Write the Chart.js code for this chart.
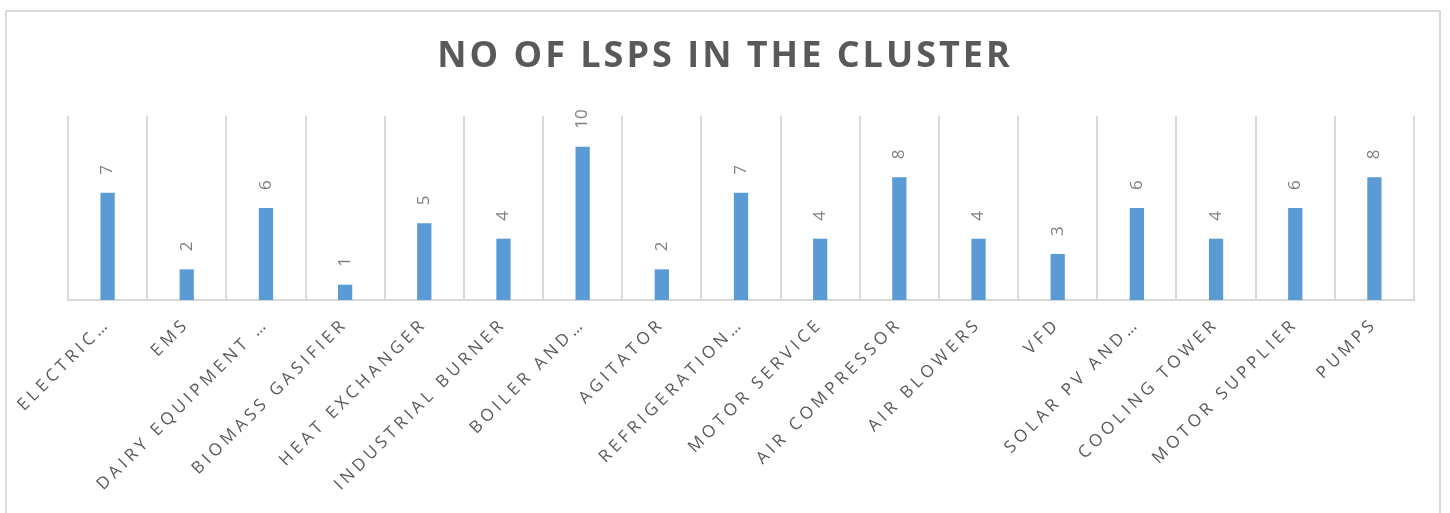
<!DOCTYPE html>
<html lang="en">
<head>
    <meta charset="UTF-8">
    <title>No of LSPs in the cluster</title>
    <script src="https://cdn.jsdelivr.net/npm/chart.js"></script>
    <style>
        html, body { margin: 0; padding: 0; background: #fff; }
        #frame {
            position: absolute;
            left: 5px; top: 10px;
            width: 1436px; height: 520px;
            border: 2px solid #d9d9d9;
            box-sizing: border-box;
        }
        #wrap { position: absolute; left: 0; top: 0; width: 1450px; height: 513px; }
    </style>
</head>
<body>
    <div id="frame"></div>
    <div id="wrap"><canvas id="lspChart"></canvas></div>

    <script>
        const chartTitle = 'NO OF LSPS IN THE CLUSTER';
        const categories = [
            'ELECTRIC…', 'EMS', 'DAIRY EQUIPMENT …', 'BIOMASS GASIFIER', 'HEAT EXCHANGER',
            'INDUSTRIAL BURNER', 'BOILER AND…', 'AGITATOR', 'REFRIGERATION…', 'MOTOR SERVICE',
            'AIR COMPRESSOR', 'AIR BLOWERS', 'VFD', 'SOLAR PV AND…', 'COOLING TOWER',
            'MOTOR SUPPLIER', 'PUMPS'
        ];
        const lspCounts = [7, 2, 6, 1, 5, 4, 10, 2, 7, 4, 8, 4, 3, 6, 4, 6, 8];

        // tick labels are spaced out like the original
        const spacing = {
            id: 'spacing',
            beforeInit(chart) { chart.ctx.letterSpacing = '4px'; },
            beforeDraw(chart) { chart.ctx.letterSpacing = '4px'; }
        };

        // value labels drawn vertically above each bar + the title
        const extras = {
            id: 'extras',
            afterDraw(chart) {
                const ctx = chart.ctx;
                const meta = chart.getDatasetMeta(0);
                ctx.save();
                ctx.letterSpacing = '0px';
                ctx.font = '17px "Open Sans", sans-serif';
                ctx.fillStyle = '#808080';
                ctx.textAlign = 'left';
                ctx.textBaseline = 'middle';
                meta.data.forEach((bar, i) => {
                    ctx.save();
                    ctx.translate(bar.x, bar.y - 18);
                    ctx.rotate(-Math.PI / 2);
                    ctx.fillText(String(lspCounts[i]), 0, 0);
                    ctx.restore();
                });

                ctx.letterSpacing = '3px';
                ctx.font = 'bold 36px "Open Sans", sans-serif';
                ctx.fillStyle = '#595959';
                ctx.textAlign = 'center';
                ctx.fillText(chartTitle, 725, 57);
                ctx.restore();
            }
        };

        new Chart(document.getElementById('lspChart').getContext('2d'), {
            type: 'bar',
            data: {
                labels: categories,
                datasets: [{
                    data: lspCounts,
                    backgroundColor: '#5b9bd5',
                    barPercentage: 0.36,
                    categoryPercentage: 0.5
                }]
            },
            plugins: [spacing, extras],
            options: {
                responsive: true,
                maintainAspectRatio: false,
                animation: false,
                layout: { padding: { left: 68, right: 36, top: 116, bottom: 0 } },
                plugins: {
                    legend: { display: false },
                    tooltip: { enabled: false },
                    title: { display: false }
                },
                scales: {
                    x: {
                        grid: { color: '#d9d9d9', lineWidth: 2, offset: true, drawTicks: false },
                        border: { color: '#d9d9d9', width: 2 },
                        ticks: {
                            color: '#595959',
                            font: { family: '"Open Sans", sans-serif', size: 17 },
                            minRotation: 45,
                            maxRotation: 45,
                            padding: 14,
                            autoSkip: false
                        },
                        afterFit(scale) { scale.height = 213; }
                    },
                    y: {
                        display: false,
                        min: 0,
                        max: 12
                    }
                }
            }
        });
    </script>
</body>
</html>
